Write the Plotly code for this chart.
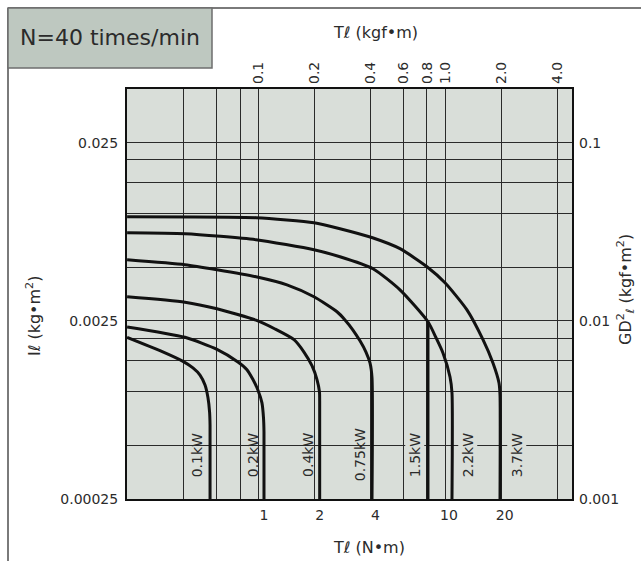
import math
import plotly.graph_objects as go

# Torque (N·m) vs load inertia (kg·m²) limit curves per motor capacity
kw_labels = ["0.1kW", "0.2kW", "0.4kW", "0.75kW", "1.5kW", "2.2kW", "3.7kW"]

t_01 = [0.182, 0.274, 0.365, 0.413, 0.451, 0.480, 0.498, 0.508, 0.511, 0.511]
i_01 = [0.00202, 0.00170, 0.00148, 0.00136, 0.00124, 0.00109, 0.000924, 0.000771, 0.000651, 0.00025]

t_02 = [0.182, 0.374, 0.557, 0.723, 0.809, 0.872, 0.928, 0.975, 0.994, 1.0, 1.0]
i_02 = [0.00231, 0.00202, 0.00173, 0.00147, 0.00133, 0.00117, 0.00102, 0.000866, 0.000713, 0.000595, 0.00025]

t_04 = [0.182, 0.374, 0.557, 0.905, 1.147, 1.453, 1.645, 1.817, 1.934, 1.995, 2.0, 2.0]
i_04 = [0.00341, 0.00318, 0.00292, 0.00252, 0.00225, 0.00196, 0.00167, 0.00140, 0.00117, 0.000998, 0.000843, 0.00025]

t_075 = [0.182, 0.374, 0.557, 0.905, 1.331, 1.863, 2.481, 2.741, 3.027, 3.303, 3.559, 3.741, 3.836, 3.836]
i_075 = [0.00550, 0.00516, 0.00484, 0.00442, 0.00398, 0.00341, 0.00281, 0.00253, 0.00222, 0.00193, 0.00167, 0.00145, 0.00120, 0.00025]

t_15 = [7.70, 7.70]
i_15 = [0.00247, 0.00025]

t_22 = [0.182, 0.374, 0.905, 1.863, 2.575, 3.882, 5.435, 7.70, 8.51, 9.28, 10.13, 10.38, 10.38]
i_22 = [0.00780, 0.00770, 0.00713, 0.00626, 0.00572, 0.00490, 0.00373, 0.00247, 0.00201, 0.00165, 0.00121, 0.000985, 0.00025]

t_37 = [0.182, 0.905, 1.863, 2.575, 3.86, 5.435, 7.605, 9.515, 12.51, 15.27, 17.29, 18.64, 18.87, 18.87]
i_37 = [0.00960, 0.00948, 0.00888, 0.00822, 0.00731, 0.00635, 0.00503, 0.00409, 0.00288, 0.00196, 0.00145, 0.00112, 0.00096, 0.00025]

curves_t = [t_01, t_02, t_04, t_075, t_15, t_22, t_37]
curves_i = [i_01, i_02, i_04, i_075, i_15, i_22, i_37]

# label placement: height of the labels (kg·m²) and sideways offset from each curve's vertical part
label_i = 0.00044
label_shift = [-13, -11, -11, -12, -13, 16, 17]
label_boxed = [False, False, False, False, True, True, True]

# axis ticks
nm_ticks = [1, 2, 4, 10, 20]
kgf_ticks = [0.1, 0.2, 0.4, 0.6, 0.8, 1.0, 2.0, 4.0]
kgf_text = ["0.1", "0.2", "0.4", "0.6", "0.8", "1.0", "2.0", "4.0"]
kgf_minor = [0.04, 0.06, 0.08]
inertia_ticks = [0.00025, 0.0025, 0.025]
inertia_text = ["0.00025", "0.0025", "0.025"]
gd2_ticks = [0.001, 0.01, 0.1]
gd2_text = ["0.001", "0.01", "0.1"]
gd2_minor = [0.002, 0.004, 0.006, 0.008, 0.02, 0.04, 0.06, 0.08]

FONT = "'DejaVu Sans', sans-serif"
TXT = "#2b2b2b"
BG = "#d9ded9"
GRID = "#2a2a2a"
W, H = 641, 561
L, R, T, B = 127, 69, 89, 62
PW, PH = W - L - R, H - T - B


def px_x(p):
    return (p - L) / PW


def px_y(p):
    return (H - B - p) / PH


fig = go.Figure()

for t, i in zip(curves_t, curves_i):
    fig.add_trace(go.Scatter(
        x=t, y=i, mode="lines",
        line=dict(color="#111111", width=3, shape="spline", smoothing=0.6),
        hoverinfo="skip", showlegend=False,
    ))

# empty trace so the kgf / GD² axes get their own overlaid subplot
fig.add_trace(go.Scatter(x=[], y=[], xaxis="x2", yaxis="y2", showlegend=False, hoverinfo="skip"))

tickfont = dict(family=FONT, size=14, color=TXT)
minor_grid = dict(showgrid=True, gridcolor=GRID, gridwidth=1, ticks="")

fig.update_layout(
    width=W, height=H,
    margin=dict(l=L, r=R, t=T, b=B),
    paper_bgcolor="white",
    plot_bgcolor=BG,
    xaxis=dict(
        type="log", range=[-0.7405, 1.665],
        tickvals=nm_ticks, ticktext=[str(v) for v in nm_ticks],
        showgrid=False, zeroline=False, ticks="",
        showline=True, mirror=True, linecolor="#111111", linewidth=2,
        tickfont=tickfont, ticklabelstandoff=2,
    ),
    yaxis=dict(
        type="log", range=[-3.60206, -1.30103],
        tickvals=inertia_ticks, ticktext=inertia_text,
        showgrid=False, zeroline=False, ticks="",
        showline=True, mirror=True, linecolor="#111111", linewidth=2,
        tickfont=tickfont, ticklabelstandoff=4,
    ),
    xaxis2=dict(
        type="log", range=[-1.7015, 0.6788], overlaying="x", side="top",
        tickvals=kgf_ticks, ticktext=kgf_text, tickangle=-90,
        showgrid=True, gridcolor=GRID, gridwidth=1,
        minor=dict(tickvals=kgf_minor, **minor_grid),
        zeroline=False, ticks="", showline=False,
        tickfont=tickfont, ticklabelstandoff=4,
    ),
    yaxis2=dict(
        type="log", range=[-3.0, -0.699], overlaying="y", side="right",
        tickvals=gd2_ticks, ticktext=gd2_text,
        showgrid=True, gridcolor=GRID, gridwidth=1,
        minor=dict(tickvals=gd2_minor, **minor_grid),
        zeroline=False, ticks="", showline=False,
        tickfont=tickfont, ticklabelstandoff=6,
    ),
)

# capacity labels beside each curve's vertical part
for name, t, dx, boxed in zip(kw_labels, curves_t, label_shift, label_boxed):
    fig.add_annotation(
        x=math.log10(t[-1]), y=math.log10(label_i), xref="x", yref="y",
        text=name, textangle=-90, showarrow=False, xshift=dx,
        xanchor="center", yanchor="middle",
        font=dict(family=FONT, size=14, color=TXT),
        bgcolor=BG if boxed else "rgba(0,0,0,0)", borderpad=1,
    )


def paper_text(x, y, text, size, angle=0):
    fig.add_annotation(x=px_x(x), y=px_y(y), xref="paper", yref="paper",
                       xanchor="center", yanchor="middle", showarrow=False,
                       textangle=angle, text=text,
                       font=dict(family=FONT, size=size, color=TXT))


# axis titles
paper_text(375, 32, "Tℓ (kgf•m)", 16)
paper_text(369, 547, "Tℓ (N•m)", 16)
paper_text(33, 316, "Iℓ (kg•m<sup>2</sup>)", 16, -90)
paper_text(625, 290, "GD<sup>2</sup><sub>ℓ</sub> (kgf•m<sup>2</sup>)", 16, -90)

# outer frame (top and left edges) and the speed box
fig.add_shape(type="line", xref="paper", yref="paper",
              x0=px_x(8), x1=px_x(W + 2), y0=px_y(8), y1=px_y(8),
              line=dict(color="#7a7a7a", width=2))
fig.add_shape(type="line", xref="paper", yref="paper",
              x0=px_x(8), x1=px_x(8), y0=px_y(8), y1=px_y(H + 2),
              line=dict(color="#7a7a7a", width=2))
fig.add_shape(type="rect", xref="paper", yref="paper",
              x0=px_x(8), x1=px_x(212), y0=px_y(68), y1=px_y(8),
              fillcolor="#bec8c0", line=dict(color="#6e6e6e", width=1.5))
paper_text(110, 38, "N=40 times/min", 22)

fig.write_html("out.html")
